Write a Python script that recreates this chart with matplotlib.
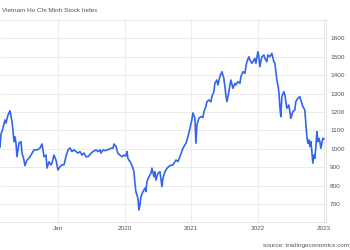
import matplotlib
matplotlib.use("Agg")
import matplotlib.pyplot as plt

plt.rcParams['font.family'] = ['Liberation Sans', 'DejaVu Sans']

# decimal year, index level
years = [
    2018.129, 2018.144, 2018.174, 2018.204, 2018.219, 2018.249, 2018.279, 2018.309,
    2018.324, 2018.339, 2018.354, 2018.369, 2018.384, 2018.414, 2018.444, 2018.459,
    2018.489, 2018.504, 2018.534, 2018.564, 2018.594, 2018.640, 2018.685, 2018.730,
    2018.760, 2018.790, 2018.820, 2018.835, 2018.865, 2018.895, 2018.910, 2018.940,
    2018.970, 2019.000, 2019.030, 2019.060, 2019.090, 2019.120, 2019.150, 2019.180,
    2019.210, 2019.240, 2019.270, 2019.300, 2019.330, 2019.360, 2019.390, 2019.420,
    2019.450, 2019.495, 2019.526, 2019.571, 2019.601, 2019.631, 2019.646, 2019.676,
    2019.706, 2019.736, 2019.766, 2019.796, 2019.826, 2019.841, 2019.871, 2019.901,
    2019.931, 2019.961, 2019.991, 2020.021, 2020.036, 2020.051, 2020.081, 2020.096,
    2020.126, 2020.141, 2020.156, 2020.171, 2020.201, 2020.216, 2020.231, 2020.246,
    2020.276, 2020.306, 2020.321, 2020.336, 2020.366, 2020.396, 2020.411, 2020.441,
    2020.456, 2020.471, 2020.501, 2020.532, 2020.562, 2020.577, 2020.607, 2020.637,
    2020.682, 2020.727, 2020.772, 2020.802, 2020.832, 2020.877, 2020.922, 2020.952,
    2020.982, 2021.012, 2021.027, 2021.057, 2021.072, 2021.087, 2021.117, 2021.147,
    2021.177, 2021.192, 2021.222, 2021.237, 2021.267, 2021.297, 2021.312, 2021.342,
    2021.357, 2021.387, 2021.402, 2021.432, 2021.462, 2021.492, 2021.507, 2021.522,
    2021.538, 2021.568, 2021.583, 2021.598, 2021.628, 2021.658, 2021.673, 2021.703,
    2021.733, 2021.748, 2021.778, 2021.808, 2021.823, 2021.838, 2021.868, 2021.883,
    2021.913, 2021.958, 2021.973, 2022.003, 2022.018, 2022.033, 2022.063, 2022.093,
    2022.108, 2022.138, 2022.153, 2022.183, 2022.213, 2022.243, 2022.258, 2022.288,
    2022.303, 2022.318, 2022.333, 2022.348, 2022.363, 2022.393, 2022.408, 2022.438,
    2022.468, 2022.483, 2022.498, 2022.528, 2022.558, 2022.573, 2022.603, 2022.633,
    2022.648, 2022.678, 2022.708, 2022.724, 2022.739, 2022.754, 2022.769, 2022.784,
    2022.799, 2022.814, 2022.829, 2022.844, 2022.859, 2022.874, 2022.889, 2022.904,
    2022.919, 2022.934, 2022.949, 2022.964, 2022.979, 2022.994,
]
index_values = [
    1010, 1080, 1113, 1157, 1140, 1184, 1207, 1148,
    1100, 1040, 1066, 1032, 958, 1032, 1040, 978,
    940, 910, 940, 950, 967, 995, 995, 1005,
    1027, 958, 967, 897, 931, 914, 924, 967,
    940, 886, 904, 914, 914, 958, 995, 1005,
    986, 995, 986, 978, 986, 967, 978, 958,
    958, 976, 986, 995, 986, 995, 978, 995,
    991, 995, 998, 1004, 1004, 1027, 1013, 976,
    967, 958, 967, 962, 986, 949, 931, 923,
    896, 877, 815, 769, 733, 670, 697, 742,
    769, 788, 769, 823, 850, 868, 896, 850,
    877, 832, 868, 877, 796, 841, 877, 896,
    910, 914, 940, 932, 958, 1004, 1031, 1066,
    1110, 1160, 1195, 1167, 1031, 1130, 1166, 1175,
    1170, 1202, 1229, 1256, 1265, 1255, 1283, 1310,
    1355, 1373, 1346, 1391, 1418, 1382, 1337, 1292,
    1256, 1310, 1346, 1373, 1328, 1355, 1346, 1364,
    1355, 1391, 1418, 1409, 1445, 1472, 1499, 1481,
    1463, 1490, 1463, 1526, 1499, 1445, 1499, 1508,
    1490, 1472, 1508, 1499, 1517, 1472, 1465, 1373,
    1346, 1310, 1229, 1175, 1283, 1310, 1292, 1220,
    1238, 1202, 1166, 1202, 1211, 1256, 1274, 1283,
    1265, 1229, 1211, 1139, 1066, 1031, 1049, 1013,
    1040, 986, 923, 967, 950, 1013, 1094, 1040,
    1058, 1040, 1004, 1031, 1058, 1055,
]

year_ticks = [2019, 2020, 2021, 2022, 2023]
year_labels = ["Jan", "2020", "2021", "2022", "2023"]
value_ticks = [700, 800, 900, 1000, 1100, 1200, 1300, 1400, 1500, 1600]

fig = plt.figure(figsize=(3.5, 2.5), dpi=100)
ax = fig.add_axes([0.0, 0.112, 0.931, 0.812])

ax.plot(years, index_values, color="#3366ee", lw=1.2)

ax.set_xlim(2018.129, 2023.024)
ax.set_ylim(605, 1703)
ax.set_xticks(year_ticks)
ax.set_xticklabels(year_labels)
ax.set_yticks(value_ticks + [1700])
ax.set_yticklabels([str(v) for v in value_ticks] + [""])
ax.yaxis.tick_right()
ax.tick_params(length=0, labelsize=4.6, colors="#555555", pad=3)
ax.grid(True, color="#e8e8e8", lw=0.6)

for s in ["top", "left"]:
    ax.spines[s].set_visible(False)
ax.spines["right"].set_color("#e0e0e0")
ax.spines["bottom"].set_color("#e0e0e0")
ax.spines["right"].set_linewidth(0.6)
ax.spines["bottom"].set_linewidth(0.6)

fig.text(0.006, 0.96, "Vietnam Ho Chi Minh Stock Index", fontsize=4.6,
         color="#555555", va="center", ha="left")
fig.text(0.998, 0.017, "source: tradingeconomics.com", fontsize=4.6,
         color="#555555", va="center", ha="right")

fig.savefig("out.png", dpi=100)
